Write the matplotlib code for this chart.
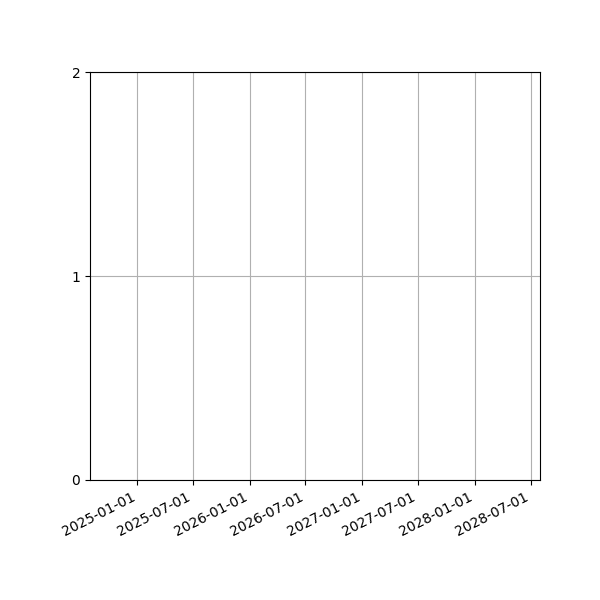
import matplotlib
matplotlib.use('Agg')
import matplotlib.pyplot as plt
import matplotlib.dates as mdates
import datetime

# axis range and ticks (the chart has no data marks)
x_start = datetime.date(2024, 8, 1)
x_end = datetime.date(2028, 7, 31)
tick_dates = [datetime.date(2025, 1, 1), datetime.date(2025, 7, 1),
              datetime.date(2026, 1, 1), datetime.date(2026, 7, 1),
              datetime.date(2027, 1, 1), datetime.date(2027, 7, 1),
              datetime.date(2028, 1, 1), datetime.date(2028, 7, 1)]
y_ticks = [0, 1, 2]

fig, ax = plt.subplots(figsize=(6, 6), dpi=100)
fig.subplots_adjust(left=0.15, right=0.9, top=0.88, bottom=0.2)

ax.set_xlim(x_start, x_end)
ax.set_ylim(y_ticks[0], y_ticks[-1])
ax.set_xticks(tick_dates)
ax.xaxis.set_major_formatter(mdates.DateFormatter('%Y-%m-%d'))
ax.set_yticks(y_ticks)
ax.grid(True)

for lbl in ax.get_xticklabels():
    lbl.set_rotation(27)
    lbl.set_ha('right')

plt.savefig('out.png', dpi=100)
